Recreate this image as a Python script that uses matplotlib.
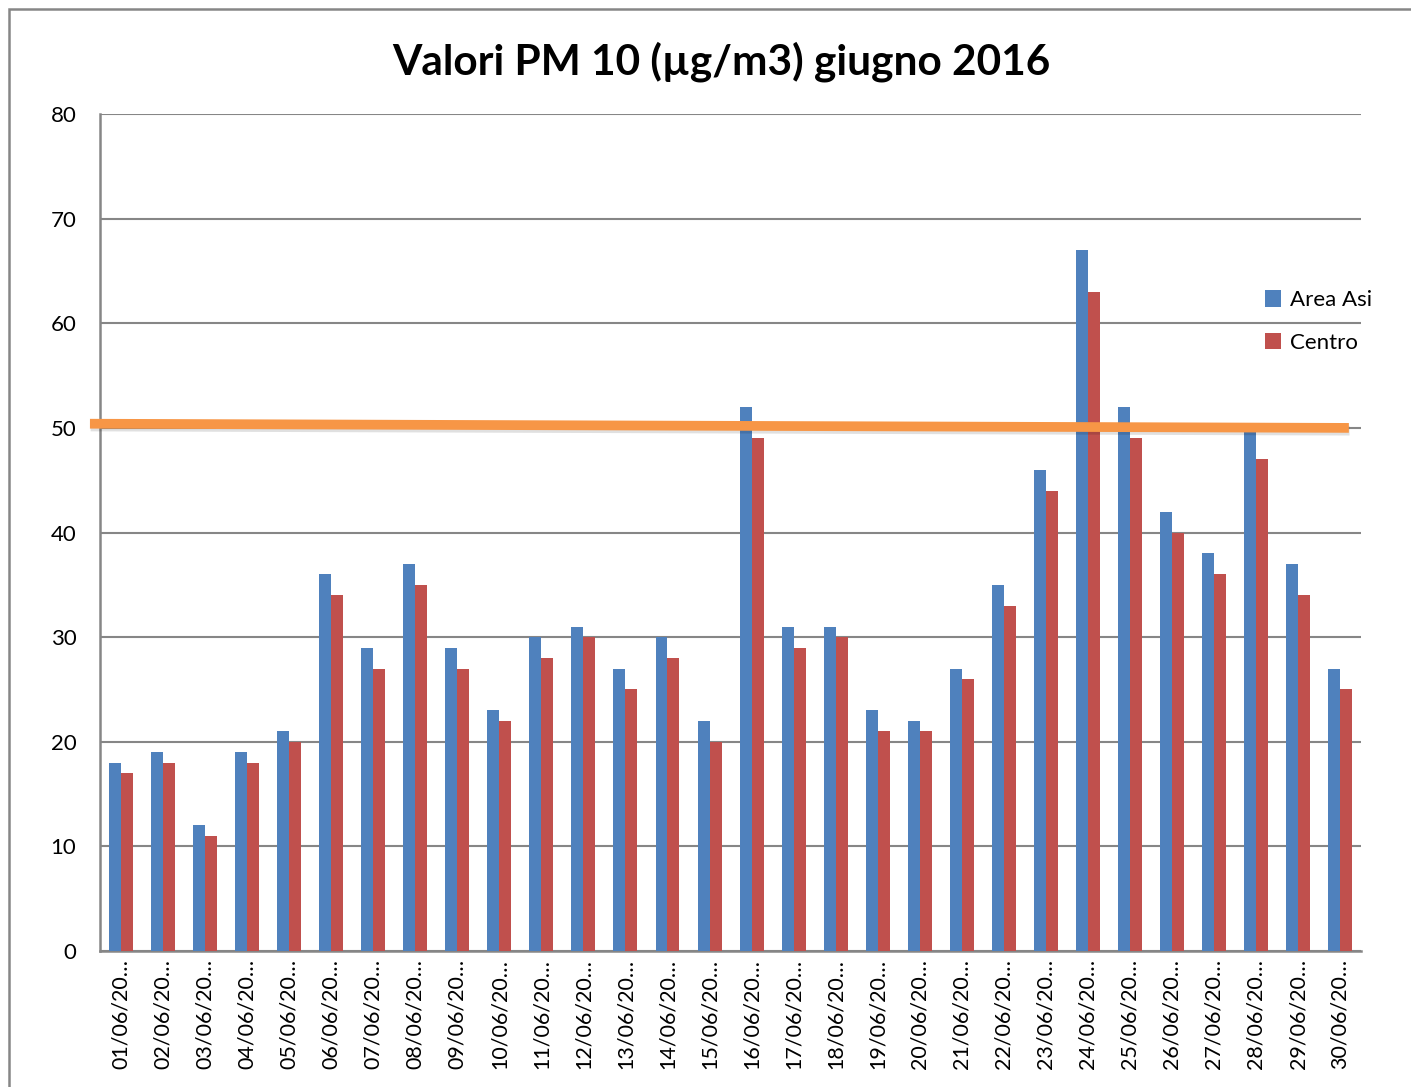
import numpy as np
import matplotlib
matplotlib.use("Agg")
from matplotlib import pyplot as plt
from matplotlib.patches import Rectangle
import matplotlib.patheffects as pe

plt.rcParams['font.family'] = ['Lato', 'DejaVu Sans']

# Dati PM10 giugno 2016
giorni = ["%02d/06/20…" % d for d in range(1, 31)]
area_asi = [18, 19, 12, 19, 21, 36, 29, 37, 29, 23, 30, 31, 27, 30, 22,
            52, 31, 31, 23, 22, 27, 35, 46, 67, 52, 42, 38, 50, 37, 27]
centro = [17, 18, 11, 18, 20, 34, 27, 35, 27, 22, 28, 30, 25, 28, 20,
          49, 29, 30, 21, 21, 26, 33, 44, 63, 49, 40, 36, 47, 34, 25]
limite = 50

fig = plt.figure(figsize=(14.11, 10.87), dpi=100)
ax = fig.add_axes([0.0709, 0.1251, 0.8937, 0.77])

x = np.arange(len(giorni))
w = 0.285
ax.bar(x - w/2, area_asi, w, color='#4F81BD', label='Area Asi', zorder=3)
ax.bar(x + w/2, centro, w, color='#C0504D', label='Centro', zorder=3)

# linea limite (disegnata a mano nell'originale, leggermente inclinata)
ax.plot([-0.74, 29.21], [limite + 0.4, limite], color='#F79646', lw=7,
        solid_capstyle='butt', zorder=5, clip_on=False,
        path_effects=[pe.SimpleLineShadow(offset=(0.5, -2), alpha=0.12), pe.Normal()])

ax.set_xlim(-0.5, len(giorni) - 0.5)
ax.set_ylim(0, 80)
ax.set_yticks(range(0, 81, 10))
ax.yaxis.grid(True, color='#868686', lw=1.5, zorder=0)
ax.set_xticks(x)
ax.set_xticklabels(giorni, rotation=90, fontsize=15.5)
ax.tick_params(axis='y', labelsize=16, length=0, pad=17)
ax.tick_params(axis='x', length=0, pad=6)
for s in ['top', 'right']:
    ax.spines[s].set_visible(False)
for s in ['left', 'bottom']:
    ax.spines[s].set_color('#868686')
    ax.spines[s].set_linewidth(1.8)

fig.suptitle("Valori PM 10 (µg/m3) giugno 2016", fontsize=30.5, fontweight='bold',
             x=0.511, y=0.962)

ax.legend(loc='upper left', bbox_to_anchor=(0.9165, 0.80), frameon=False,
          fontsize=16, handlelength=0.75, handleheight=0.75, handletextpad=0.4,
          labelspacing=1.0, borderaxespad=0)

fig.patches.append(Rectangle((9/1411, -0.1), 1.2, 1 - 9/1087 + 0.1,
                             transform=fig.transFigure, fill=False,
                             edgecolor='#868686', lw=1.8))

fig.savefig("out.png", dpi=100)
